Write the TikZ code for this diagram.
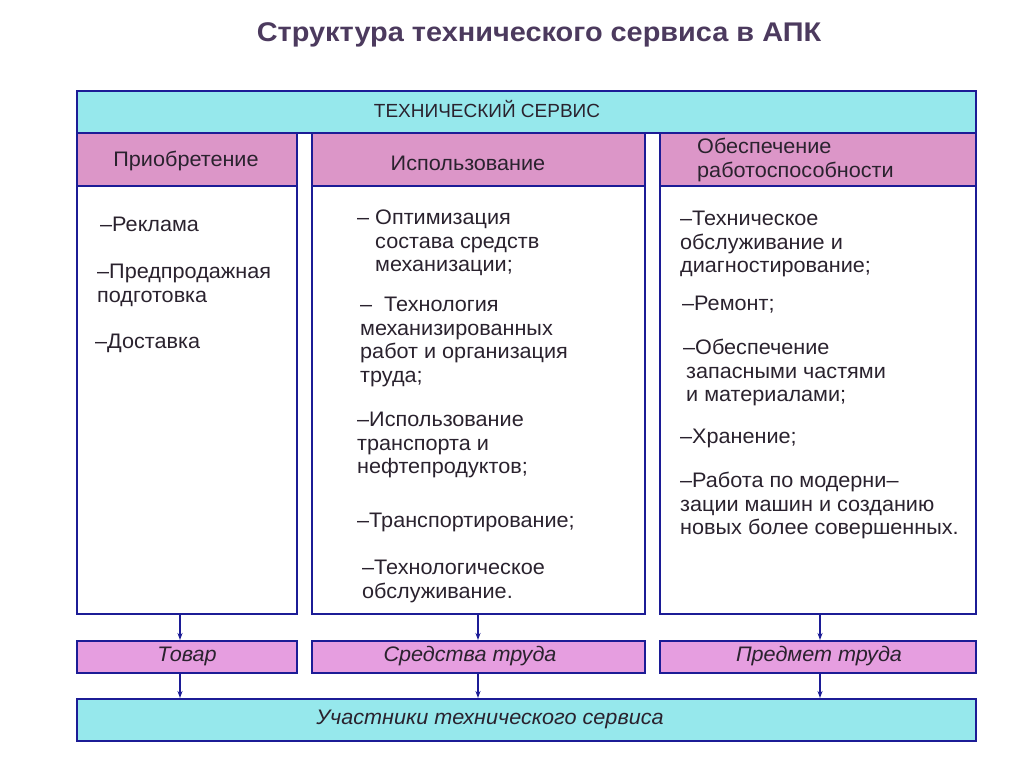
\documentclass[tikz,border=0pt]{standalone}
\usepackage{fontspec}
\setmainfont{Liberation Sans}
\newfontfamily\boxfont[FakeStretch=1.03]{Liberation Sans}
\newfontfamily\headfont[FakeStretch=1.07]{Liberation Sans}
\usetikzlibrary{arrows.meta,positioning}

\definecolor{barcyan}{HTML}{96E8EC}
\definecolor{headpink}{HTML}{DC96C8}
\definecolor{prodpink}{HTML}{E69EE0}
\definecolor{frameblue}{HTML}{1C1C96}
\definecolor{inktext}{HTML}{2A222E}
\definecolor{titleink}{HTML}{4C3A5E}

\tikzset{
  box/.style={draw=frameblue, line width=2pt, inner sep=0pt, anchor=north west},
  bar/.style={box, fill=barcyan, minimum width=899pt, minimum height=42pt},
  head/.style={box, fill=headpink, minimum height=53pt},
  body/.style={box, fill=white, minimum height=428pt},
  prod/.style={box, fill=prodpink, minimum height=32pt},
  item/.style={anchor=north west, inner sep=0pt, align=left, text=inktext,
    font=\boxfont\fontsize{21}{23.5}\selectfont},
  boxtxt/.style={inner sep=0pt, text=inktext, font=\boxfont\fontsize{21}{23.5}\selectfont},
  italtxt/.style={boxtxt, font=\boxfont\fontsize{21}{23.5}\selectfont\itshape},
  flow/.style={draw=frameblue, line width=1.5pt, -{Stealth[length=7pt,width=5pt]}}
}

\begin{document}
\begin{tikzpicture}[x=1pt, y=-1pt]
  \useasboundingbox[fill=white] (0,0) rectangle (1024,767);
  % title
  \node[text=titleink, font=\headfont\fontsize{27}{30}\selectfont\bfseries] (title) at (539,35)
    {Структура технического сервиса в АПК};
  % top bar
  \node[bar] (service) at (76,90) {};
  \node[boxtxt, font=\fontsize{19}{23.5}\selectfont] (servicetxt) at (487,109) {ТЕХНИЧЕСКИЙ СЕРВИС};
  % column headers
  \node[head, minimum width=220pt] (buyhead) at (76,132) {};
  \node[head, minimum width=333pt] (usehead) at (311,132) {};
  \node[head, minimum width=316pt] (workhead) at (659,132) {};
  \node[boxtxt] (buytxt) at (186,161) {Приобретение};
  \node[boxtxt] (usetxt) at (468,163) {Использование};
  \node[item] (worktxt) at (697,138) {Обеспечение\\работоспособности};
  % column bodies
  \node[body, minimum width=220pt] (buybody) at (76,185) {};
  \node[body, minimum width=333pt] (usebody) at (311,185) {};
  \node[body, minimum width=316pt] (workbody) at (659,185) {};
  % first column
  \node[item] (b1) at (100,217) {–Реклама};
  \node[item] (b2) at (97,264) {–Предпродажная\\подготовка};
  \node[item] (b3) at (95,334) {–Доставка};
  % second column
  \node[item] (u1) at (357,210) {– Оптимизация\\\hspace*{18pt}состава средств\\\hspace*{18pt}механизации;};
  \node[item] (u2) at (360,297) {–\hspace*{12pt}Технология\\механизированных\\работ и организация\\труда;};
  \node[item] (u3) at (357,412) {–Использование\\транспорта и\\нефтепродуктов;};
  \node[item] (u4) at (357,513) {–Транспортирование;};
  \node[item] (u5) at (362,560) {–Технологическое\\обслуживание.};
  % third column
  \node[item] (w1) at (680,211) {–Техническое\\обслуживание и\\диагностирование;};
  \node[item] (w2) at (682,296) {–Ремонт;};
  \node[item] (w3) at (683,339) {–Обеспечение\\\hspace*{3pt}запасными частями\\\hspace*{3pt}и материалами;};
  \node[item] (w4) at (680,429) {–Хранение;};
  \node[item] (w5) at (680,472) {–Работа по модерни–\\зации машин и созданию\\новых более совершенных.};
  % results
  \node[prod, minimum width=220pt] (goods) at (76,640) {};
  \node[prod, minimum width=333pt] (means) at (311,640) {};
  \node[prod, minimum width=316pt] (object) at (659,640) {};
  \node[italtxt] (goodstxt) at (187,656) {Товар};
  \node[italtxt] (meanstxt) at (470,656) {Средства труда};
  \node[italtxt] (objecttxt) at (819,656) {Предмет труда};
  % participants
  \node[bar] (actors) at (76,698) {};
  \node[italtxt] (actorstxt) at (490,719) {Участники технического сервиса};
  % arrows
  \coordinate (c1) at (180,0);
  \coordinate (c2) at (478,0);
  \coordinate (c3) at (820,0);
  \draw[flow] (buybody.south -| c1) -- (goods.north -| c1);
  \draw[flow] (usebody.south -| c2) -- (means.north -| c2);
  \draw[flow] (workbody.south -| c3) -- (object.north -| c3);
  \draw[flow] (goods.south -| c1) -- (actors.north -| c1);
  \draw[flow] (means.south -| c2) -- (actors.north -| c2);
  \draw[flow] (object.south -| c3) -- (actors.north -| c3);
\end{tikzpicture}
\end{document}
